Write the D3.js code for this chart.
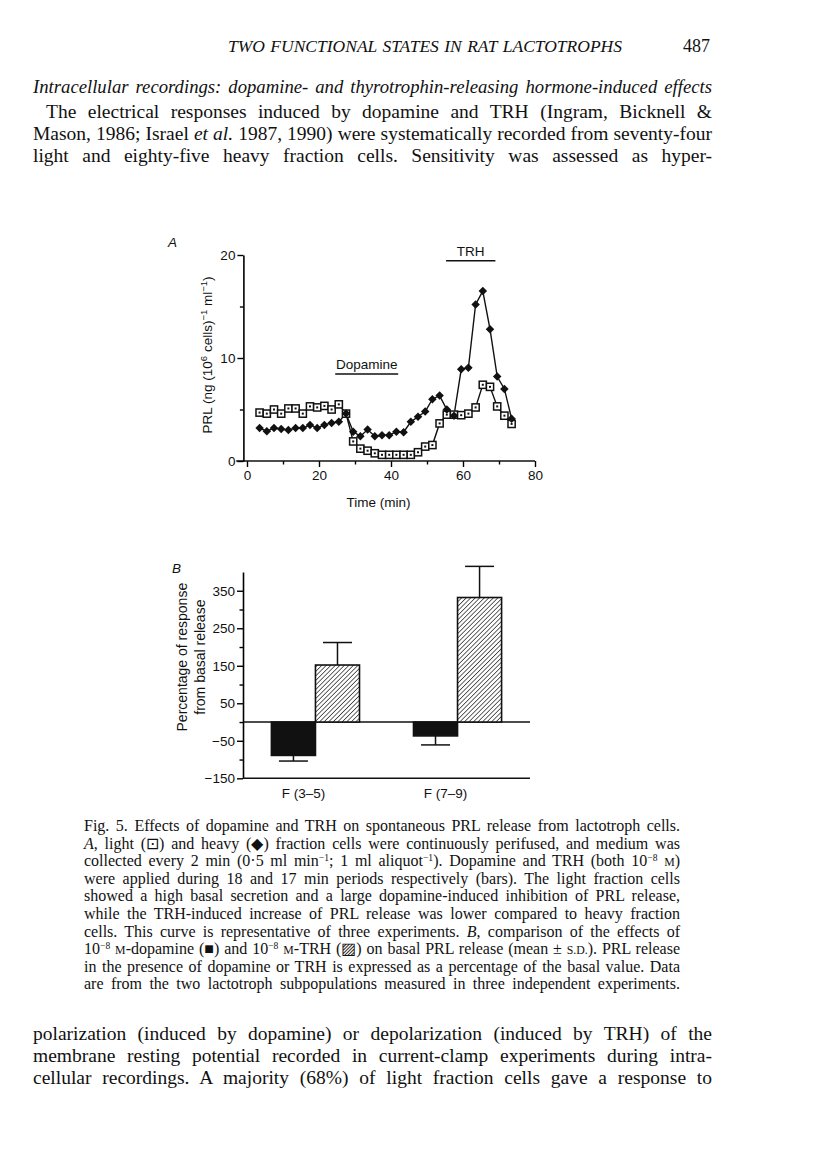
<!DOCTYPE html>
<html>
<head>
<meta charset="utf-8">
<script src="https://cdn.jsdelivr.net/npm/d3@7"></script>
<style>
  body { margin: 0; background: #fff; }
  svg { display: block; }
</style>
</head>
<body>
<div id="page"></div>
<script>
// ---- panel A data: PRL release (ng (10^6 cells)^-1 ml^-1) vs time (min)
const times = [3.5, 5.5, 7.5, 9.5, 11.5, 13.5, 15.5, 17.5, 19.5, 21.5, 23.5, 25.5,
               27.5, 29.5, 31.5, 33.5, 35.5, 37.5, 39.5, 41.5, 43.5, 45.5, 47.5, 49.5,
               51.5, 53.5, 55.5, 57.5, 59.5, 61.5, 63.5, 65.5, 67.5, 69.5, 71.5, 73.5];
const lightPRL = [4.7, 4.6, 5.0, 4.6, 5.1, 5.1, 4.6, 5.3, 5.2, 5.35, 5.0, 5.5,
                  4.6, 1.9, 1.2, 1.0, 0.75, 0.6, 0.6, 0.6, 0.6, 0.6, 0.85, 1.4,
                  1.55, 3.65, 4.5, 4.5, 4.45, 4.6, 5.2, 7.4, 7.2, 5.3, 4.4, 3.6];
const heavyPRL = [3.2, 2.9, 3.2, 3.1, 3.0, 3.2, 3.2, 3.5, 3.2, 3.5, 3.7, 3.8,
                  4.6, 2.85, 2.4, 3.05, 2.4, 2.5, 2.5, 2.85, 2.8, 3.8, 4.3, 4.8,
                  6.0, 6.35, 5.0, 4.4, 8.9, 9.05, 15.2, 16.5, 12.8, 8.2, 7.0, 4.1];
const applications = ["Dopamine", "TRH"];
const applicationStart = [24.5, 55.3];
const applicationEnd = [42, 69];
const xTicksA = [0, 10, 20, 30, 40, 50, 60, 70, 80];
const yTicksA = [0, 5, 10, 15, 20];

// ---- panel B data: % response from basal release (mean + s.d.)
const groups = ["F (3\u20135)", "F (7\u20139)"];
const agents = ["dopamine", "TRH"];
const dopamineMean = [-89, -37];
const dopamineSD = [15, 24];
const trhMean = [152, 332];
const trhSD = [60, 83];
const yTicksB = [-150, -100, -50, 0, 50, 100, 150, 200, 250, 300, 350];

const width = 816, height = 1169;
const serif = "'Liberation Serif', 'Times New Roman', serif";
const sans = "'Liberation Sans', Arial, Helvetica, sans-serif";

const svg = d3.select("#page").append("svg")
    .attr("width", width)
    .attr("height", height)
    .attr("viewBox", [0, 0, width, height]);

svg.append("rect").attr("width", width).attr("height", height).attr("fill", "#fff");

// line of text made of parts (plain / italic / superscript / small caps),
// justified by widening the word gaps
function addLine(x, y, w, parts, size, italic) {
    const t = svg.append("text")
        .attr("x", x).attr("y", y)
        .attr("font-family", serif)
        .attr("font-size", size)
        .attr("font-style", italic ? "italic" : "normal")
        .attr("fill", "#111");
    let shift = 0, spaces = 0;
    for (const p of parts) {
        let txt = p, kind = "plain";
        if (typeof p !== "string") { kind = Object.keys(p)[0]; txt = p[kind]; }
        spaces += (txt.match(/ /g) || []).length;
        const want = kind === "sup" ? -0.3 * size : 0;
        const s = t.append("tspan").text(txt).attr("dy", want - shift);
        shift = want;
        if (kind === "i") s.attr("font-style", "italic");
        if (kind === "sup") s.attr("font-size", size * 0.6);
        if (kind === "sc") s.attr("font-size", size * 0.74);
    }
    if (w) {
        const natural = t.node().getComputedTextLength();
        if (spaces > 0) t.attr("word-spacing", (w - natural) / spaces);
        else t.attr("textLength", w).attr("lengthAdjust", "spacing");
    }
    return t;
}

// ---- page text, top
addLine(228, 52, 394, ["TWO FUNCTIONAL STATES IN RAT LACTOTROPHS"], 17.5, true);
addLine(683, 52, null, ["487"], 18, false);
addLine(33, 93, 679, ["Intracellular recordings: dopamine- and thyrotrophin-releasing hormone-induced effects"], 18.7, true);
const topBody = [
    [46, ["The electrical responses induced by dopamine and TRH (Ingram, Bicknell &"]],
    [33, ["Mason, 1986; Israel ", {i: "et al."}, " 1987, 1990) were systematically recorded from seventy-four"]],
    [33, ["light and eighty-five heavy fraction cells. Sensitivity was assessed as hyper-"]]
];
topBody.forEach((l, i) => addLine(l[0], 118 + i * 22, 712 - l[0], l[1], 19.5, false));

// ---- caption
const caption = [
    ["Fig. 5. Effects of dopamine and TRH on spontaneous PRL release from lactotroph cells."],
    [{i: "A"}, ", light (\u22a1) and heavy (\u25c6) fraction cells were continuously perifused, and medium was"],
    ["collected every 2 min (0\u00b75 ml min", {sup: "\u22121"}, "; 1 ml aliquot", {sup: "\u22121"}, "). Dopamine and TRH (both 10", {sup: "\u22128"}, " ", {sc: "M"}, ")"],
    ["were applied during 18 and 17 min periods respectively (bars). The light fraction cells"],
    ["showed a high basal secretion and a large dopamine-induced inhibition of PRL release,"],
    ["while the TRH-induced increase of PRL release was lower compared to heavy fraction"],
    ["cells. This curve is representative of three experiments. ", {i: "B"}, ", comparison of the effects of"],
    ["10", {sup: "\u22128"}, " ", {sc: "M"}, "-dopamine (\u25a0) and 10", {sup: "\u22128"}, " ", {sc: "M"}, "-TRH (\u25a8) on basal PRL release (mean \u00b1 ", {sc: "S.D."}, "). PRL release"],
    ["in the presence of dopamine or TRH is expressed as a percentage of the basal value. Data"],
    ["are from the two lactotroph subpopulations measured in three independent experiments."]
];
caption.forEach((parts, i) => addLine(84, 831 + i * 17.6, 596, parts, 16, false));

// ---- page text, bottom
const bottomBody = [
    ["polarization (induced by dopamine) or depolarization (induced by TRH) of the"],
    ["membrane resting potential recorded in current-clamp experiments during intra-"],
    ["cellular recordings. A majority (68%) of light fraction cells gave a response to"]
];
bottomBody.forEach((parts, i) => addLine(33, 1040 + i * 22, 679, parts, 19.5, false));

// =========================== panel A ===========================
const a = svg.append("g").attr("font-family", sans).attr("fill", "#111");

const x = d3.scaleLinear().domain([0, 80]).range([247, 535]);
const y = d3.scaleLinear().domain([0, 20]).range([461, 255]);

a.append("text").text("A")
    .attr("x", 168).attr("y", 247)
    .attr("font-size", 13.5).attr("font-style", "italic");

// x axis
const xAxisA = a.append("g")
    .attr("transform", `translate(0,${y(0)})`)
    .call(d3.axisBottom(x).tickValues(xTicksA).tickSize(6).tickSizeOuter(0).tickPadding(3)
        .tickFormat(d => d % 20 === 0 ? d : ""));
xAxisA.select(".domain").remove();
xAxisA.selectAll(".tick line").attr("stroke-width", 1.4)
    .attr("y2", d => d % 20 === 0 ? 6 : 3.5);
xAxisA.selectAll(".tick text").attr("font-size", 13.5).attr("font-family", sans).attr("fill", "#111");
a.append("line")
    .attr("x1", x(-3)).attr("x2", x(80))
    .attr("y1", y(0)).attr("y2", y(0))
    .attr("stroke", "#111").attr("stroke-width", 1.6);

// y axis
const yAxisA = a.append("g")
    .attr("transform", `translate(${x(-1)},0)`)
    .call(d3.axisLeft(y).tickValues(yTicksA).tickSize(6).tickSizeOuter(0).tickPadding(2)
        .tickFormat(d => d % 10 === 0 ? d : ""));
yAxisA.select(".domain").attr("stroke-width", 1.6);
yAxisA.selectAll(".tick line").attr("stroke-width", 1.4)
    .attr("x2", d => d % 10 === 0 ? -6 : -3.5);
yAxisA.selectAll(".tick text").attr("font-size", 13.5).attr("font-family", sans).attr("fill", "#111");

a.append("text").text("Time (min)")
    .attr("x", x(36.5)).attr("y", 507)
    .attr("text-anchor", "middle").attr("font-size", 13.5);

const yLab = a.append("text")
    .attr("transform", `translate(212,${y(10.3)}) rotate(-90)`)
    .attr("text-anchor", "middle").attr("font-size", 13.5);
[["PRL (ng (10", 0], ["6", 1], [" cells)", 0], ["\u22121", 1], [" ml", 0], ["\u22121", 1], [")", 0]]
    .reduce((shift, [txt, sup]) => {
        const want = sup ? -5 : 0;
        yLab.append("tspan").text(txt).attr("dy", want - shift).attr("font-size", sup ? 9.5 : 13.5);
        return want;
    }, 0);

// treatment bars
applications.forEach((name, i) => {
    const level = name === "TRH" ? 19.45 : 8.45;
    a.append("line")
        .attr("x1", x(applicationStart[i])).attr("x2", x(applicationEnd[i]))
        .attr("y1", y(level)).attr("y2", y(level))
        .attr("stroke", "#111").attr("stroke-width", 1.5);
    a.append("text").text(name)
        .attr("x", (x(applicationStart[i]) + x(applicationEnd[i])) / 2)
        .attr("y", y(level) - 5)
        .attr("text-anchor", "middle").attr("font-size", 13.5);
});

const lightData = times.map((t, i) => ({t, v: lightPRL[i]}));
const heavyData = times.map((t, i) => ({t, v: heavyPRL[i]}));
const line = d3.line().x(d => x(d.t)).y(d => y(d.v));

a.append("path").datum(lightData)
    .attr("d", line).attr("fill", "none")
    .attr("stroke", "#111").attr("stroke-width", 1.4);
a.append("path").datum(heavyData)
    .attr("d", line).attr("fill", "none")
    .attr("stroke", "#111").attr("stroke-width", 1.4);

// light fraction: open squares with a dot
const sq = a.selectAll(".sq").data(lightData).join("g").attr("class", "sq")
    .attr("transform", d => `translate(${x(d.t)},${y(d.v)})`);
sq.append("rect").attr("x", -3.6).attr("y", -3.6).attr("width", 7.2).attr("height", 7.2)
    .attr("fill", "#fff").attr("stroke", "#111").attr("stroke-width", 1.5);
sq.append("rect").attr("x", -1).attr("y", -1).attr("width", 2).attr("height", 2).attr("fill", "#111");

// heavy fraction: filled diamonds
a.selectAll(".dm").data(heavyData).join("path").attr("class", "dm")
    .attr("d", d3.symbol(d3.symbolDiamond2, 46))
    .attr("transform", d => `translate(${x(d.t)},${y(d.v)})`)
    .attr("fill", "#111");

// =========================== panel B ===========================
const b = svg.append("g").attr("font-family", sans).attr("fill", "#111");

const defs = svg.append("defs");
const hatch = defs.append("pattern")
    .attr("id", "hatch").attr("patternUnits", "userSpaceOnUse")
    .attr("width", 3.2).attr("height", 3.2)
    .attr("patternTransform", "rotate(45)");
hatch.append("rect").attr("width", 3.2).attr("height", 3.2).attr("fill", "#fff");
hatch.append("line").attr("x1", 0).attr("y1", 0).attr("x2", 0).attr("y2", 3.2)
    .attr("stroke", "#111").attr("stroke-width", 1.3);

const x0 = d3.scaleBand().domain(groups).range([243, 530]).paddingInner(0.38).paddingOuter(0.2);
const x1 = d3.scaleBand().domain(agents).range([0, x0.bandwidth()]);
const yB = d3.scaleLinear().domain([-150, 400]).range([778.3, 572]);

b.append("text").text("B")
    .attr("x", 172).attr("y", 573)
    .attr("font-size", 13.5).attr("font-style", "italic");

const yAxisB = b.append("g")
    .attr("transform", `translate(243,0)`)
    .call(d3.axisLeft(yB).tickValues(yTicksB).tickSize(6).tickSizeOuter(0).tickPadding(2)
        .tickFormat(d => (d + 150) % 100 === 0 ? d3.format("")(d) : ""));
yAxisB.select(".domain").attr("stroke-width", 1.6);
yAxisB.selectAll(".tick line").attr("stroke-width", 1.4)
    .attr("x2", d => (d + 150) % 100 === 0 ? -6 : -3.5);
yAxisB.selectAll(".tick text").attr("font-size", 13.5).attr("font-family", sans).attr("fill", "#111");

// bottom axis line and zero line
[-150, 0].forEach(v => {
    b.append("line")
        .attr("x1", 243).attr("x2", 530)
        .attr("y1", yB(v)).attr("y2", yB(v))
        .attr("stroke", "#111").attr("stroke-width", 1.6);
});

const yLabB = b.append("text")
    .attr("transform", `translate(0,${yB(173)}) rotate(-90)`)
    .attr("text-anchor", "middle").attr("font-size", 14);
yLabB.append("tspan").text("Percentage of response").attr("x", 0).attr("y", 187);
yLabB.append("tspan").text("from basal release").attr("x", 0).attr("y", 204.5);

const rows = [];
groups.forEach((g, i) => {
    rows.push({group: g, agent: "dopamine", mean: dopamineMean[i], sd: dopamineSD[i]});
    rows.push({group: g, agent: "TRH", mean: trhMean[i], sd: trhSD[i]});
});

const bar = b.selectAll(".bar").data(rows).join("g").attr("class", "bar");

// error bars (one-sided, away from zero)
bar.append("line")
    .attr("x1", d => x0(d.group) + x1(d.agent) + x1.bandwidth() / 2)
    .attr("x2", d => x0(d.group) + x1(d.agent) + x1.bandwidth() / 2)
    .attr("y1", d => yB(d.mean))
    .attr("y2", d => yB(d.mean + Math.sign(d.mean) * d.sd))
    .attr("stroke", "#111").attr("stroke-width", 1.5);
bar.append("line")
    .attr("x1", d => x0(d.group) + x1(d.agent) + x1.bandwidth() / 2 - 14.5)
    .attr("x2", d => x0(d.group) + x1(d.agent) + x1.bandwidth() / 2 + 14.5)
    .attr("y1", d => yB(d.mean + Math.sign(d.mean) * d.sd))
    .attr("y2", d => yB(d.mean + Math.sign(d.mean) * d.sd))
    .attr("stroke", "#111").attr("stroke-width", 1.5);

bar.append("rect")
    .attr("x", d => x0(d.group) + x1(d.agent))
    .attr("width", x1.bandwidth())
    .attr("y", d => yB(Math.max(0, d.mean)))
    .attr("height", d => Math.abs(yB(d.mean) - yB(0)))
    .attr("fill", d => d.agent === "TRH" ? "url(#hatch)" : "#111")
    .attr("stroke", "#111").attr("stroke-width", 1.6);

b.selectAll(".glabel").data(groups).join("text").attr("class", "glabel")
    .text(d => d)
    .attr("x", d => x0(d) + x0.bandwidth() / 2 - 12)
    .attr("y", 798)
    .attr("text-anchor", "middle").attr("font-size", 13.5);
</script>
</body>
</html>
